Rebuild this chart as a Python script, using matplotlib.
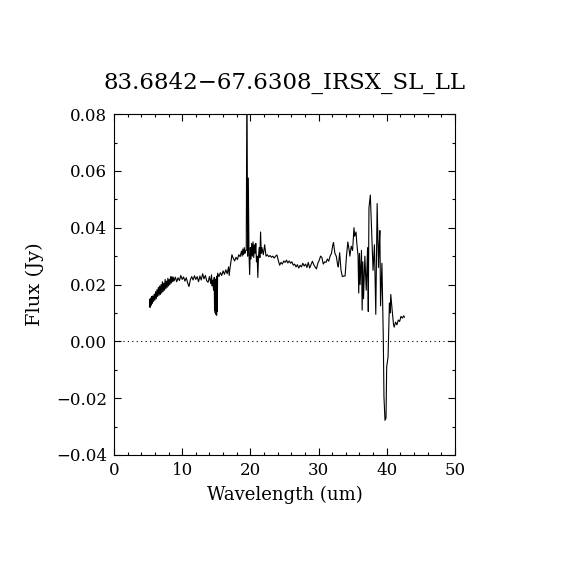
import matplotlib
matplotlib.use("Agg")
import matplotlib.pyplot as plt
from matplotlib.ticker import MultipleLocator

# spectrum values (wavelength in um, flux in Jy)
wave_sl = [5.20, 5.25, 5.30, 5.35, 5.40, 5.45, 5.50, 5.55, 5.60, 5.70,
           5.80, 5.90, 6.00, 6.10, 6.20, 6.30, 6.40, 6.50, 6.60, 6.70,
           6.80, 6.90, 7.00, 7.10, 7.20, 7.30, 7.40, 7.50, 7.60, 7.70,
           7.80, 7.90, 8.00, 8.10, 8.20, 8.30, 8.40, 8.50, 8.60, 8.70,
           8.80, 9.00, 9.20, 9.40, 9.60, 9.80, 10.0, 10.2, 10.4, 10.6,
           10.8, 11.0, 11.2, 11.4, 11.6, 11.8, 12.0, 12.2, 12.4, 12.6,
           12.8, 13.0, 13.2, 13.4, 13.6, 13.8, 14.0, 14.2, 14.3, 14.4,
           14.50, 14.60, 14.70, 14.75, 14.80, 14.85, 14.90, 14.95, 15.00, 15.05,
           15.10, 15.15, 15.20]
flux_sl = [0.0122, 0.0148, 0.0120, 0.0152, 0.0126, 0.0150, 0.0130, 0.0158, 0.0134, 0.0160,
           0.0140, 0.0166, 0.0145, 0.0175, 0.0150, 0.0182, 0.0158, 0.0190, 0.0162, 0.0195,
           0.0165, 0.0200, 0.0170, 0.0210, 0.0175, 0.0205, 0.0180, 0.0218, 0.0185, 0.0212,
           0.0190, 0.0222, 0.0195, 0.0218, 0.0200, 0.0228, 0.0205, 0.0228, 0.0210, 0.0226,
           0.0212, 0.0226, 0.0210, 0.0224, 0.0214, 0.0232, 0.0218, 0.0227, 0.0212, 0.0224,
           0.0206, 0.0193, 0.0217, 0.0228, 0.0216, 0.0231, 0.0218, 0.0228, 0.0210, 0.0230,
           0.0216, 0.0238, 0.0220, 0.0232, 0.0213, 0.0208, 0.0228, 0.0203, 0.0234, 0.0195,
           0.0215, 0.0180, 0.0225, 0.0110, 0.0220, 0.0100, 0.0215, 0.0095, 0.0210, 0.0092,
           0.0230, 0.0105, 0.0240]

wave_ll = [15.4, 15.6, 15.8, 16.0, 16.2, 16.4, 16.6, 16.8, 16.9, 17.0,
           17.2, 17.3, 17.5, 17.7, 17.9, 18.1, 18.3, 18.5, 18.7, 18.8,
           18.9, 19.0, 19.1, 19.2, 19.3, 19.4, 19.5, 19.6, 19.7, 19.8,
           19.9, 20.0, 20.1, 20.2, 20.3, 20.4, 20.5, 20.6, 20.7, 20.8,
           20.9, 21.0, 21.1, 21.2, 21.3, 21.4, 21.5, 21.6, 21.7, 21.9,
           22.1, 22.3, 22.5, 22.7, 22.9, 23.1, 23.3, 23.5, 23.7, 23.9,
           24.1, 24.3, 24.5, 24.7, 24.9, 25.1, 25.3, 25.5, 25.7, 25.9,
           26.1, 26.3, 26.5, 26.7, 26.9, 27.1, 27.3, 27.5, 27.7, 27.9,
           28.1, 28.3, 28.5, 28.7, 28.9, 29.1, 29.3, 29.5, 29.7, 29.9,
           30.1, 30.3, 30.5, 30.7, 30.9, 31.1, 31.3, 31.5, 31.7, 31.9,
           32.1, 32.2, 32.4, 32.6, 32.8, 32.9, 33.1, 33.3, 33.5, 33.7,
           33.9, 34.1, 34.3, 34.5, 34.6, 34.8, 35.0, 35.2, 35.3, 35.5,
           35.6, 35.8, 35.9, 36.0, 36.1, 36.3, 36.4, 36.5, 36.6, 36.8,
           37.0, 37.2, 37.3, 37.4, 37.6, 37.8, 38.0, 38.2, 38.4, 38.6,
           38.8, 38.9, 39.0, 39.1, 39.3, 39.5, 39.6, 39.75, 39.9, 40.0,
           40.2, 40.4, 40.5, 40.6, 40.8, 41.0, 41.1, 41.3, 41.5, 41.7,
           41.9, 42.1, 42.3, 42.5, 42.6]
flux_ll = [0.0228, 0.0242, 0.0232, 0.0248, 0.0236, 0.0252, 0.0238, 0.0262, 0.0232, 0.0255,
           0.0290, 0.0305, 0.0292, 0.0283, 0.0296, 0.0288, 0.0305, 0.0298, 0.0318, 0.0300,
           0.0325, 0.0305, 0.0330, 0.0310, 0.0320, 0.0320, 0.0950, 0.0300, 0.0575, 0.0310,
           0.0235, 0.0330, 0.0290, 0.0345, 0.0300, 0.0350, 0.0295, 0.0340, 0.0310, 0.0345,
           0.0280, 0.0300, 0.0225, 0.0300, 0.0330, 0.0295, 0.0385, 0.0310, 0.0330, 0.0305,
           0.0340, 0.0300, 0.0305, 0.0298, 0.0302, 0.0296, 0.0300, 0.0293, 0.0300, 0.0304,
           0.0285, 0.0268, 0.0278, 0.0272, 0.0283, 0.0278, 0.0286, 0.0276, 0.0283, 0.0275,
           0.0280, 0.0268, 0.0272, 0.0262, 0.0270, 0.0258, 0.0268, 0.0262, 0.0275, 0.0265,
           0.0272, 0.0260, 0.0278, 0.0258, 0.0270, 0.0282, 0.0270, 0.0262, 0.0255, 0.0275,
           0.0285, 0.0300, 0.0295, 0.0272, 0.0280, 0.0278, 0.0290, 0.0282, 0.0300, 0.0310,
           0.0340, 0.0348, 0.0310, 0.0300, 0.0270, 0.0262, 0.0312, 0.0250, 0.0228, 0.0230,
           0.0230, 0.0300, 0.0350, 0.0320, 0.0300, 0.0335, 0.0320, 0.0400, 0.0370, 0.0385,
           0.0350, 0.0300, 0.0170, 0.0310, 0.0200, 0.0320, 0.0110, 0.0280, 0.0150, 0.0300,
           0.0180, 0.0330, 0.0105, 0.0470, 0.0515, 0.0380, 0.0250, 0.0340, 0.0095, 0.0485,
           0.0260, 0.0340, 0.0390, 0.0125, 0.0275, 0.0015, -0.0195, -0.0278, -0.0270, -0.0090,
           -0.0055, 0.0135, 0.0100, 0.0165, 0.0110, 0.0060, 0.0050, 0.0068, 0.0058, 0.0075,
           0.0070, 0.0088, 0.0082, 0.0090, 0.0085]

title = "83.6842\u221267.6308_IRSX_SL_LL"

plt.rcParams['font.family'] = ['DejaVu Serif']

fig = plt.figure(figsize=(5.7, 5.7), dpi=100)
ax = fig.add_axes([0.2, 0.2018, 0.598, 0.598])

ax.plot(wave_sl + wave_ll, flux_sl + flux_ll, color='black', lw=0.8)
ax.axhline(0.0, color='black', lw=0.8, linestyle=(0, (1, 3)))

ax.set_xlim(0, 50)
ax.set_ylim(-0.04, 0.08)
ax.xaxis.set_major_locator(MultipleLocator(10))
ax.xaxis.set_minor_locator(MultipleLocator(2))
ax.yaxis.set_major_locator(MultipleLocator(0.02))
ax.yaxis.set_minor_locator(MultipleLocator(0.01))
ax.yaxis.set_major_formatter(plt.FuncFormatter(lambda v, p: ("%.2f" % v).replace('-', '\u2212')))

ax.tick_params(which='both', direction='in', top=True, right=True, labelsize=12, width=0.8)
ax.tick_params(which='major', length=5, pad=5)
ax.tick_params(which='minor', length=2.5)
for s in ax.spines.values():
    s.set_linewidth(0.8)

ax.set_xlabel("Wavelength (um)", fontsize=13, labelpad=5)
ax.set_ylabel("Flux (Jy)", fontsize=14, labelpad=9)
ax.set_title(title, fontsize=16.5, pad=18)

fig.savefig("out.png", dpi=100)
